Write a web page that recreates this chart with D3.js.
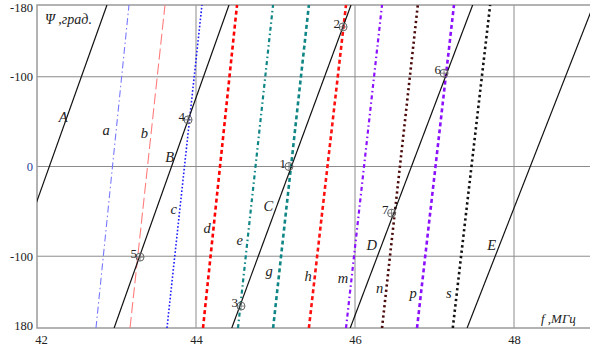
<!DOCTYPE html>
<html>
<head>
<meta charset="utf-8">
<script src="https://cdn.jsdelivr.net/npm/d3@7"></script>
<style>
  html, body { margin: 0; padding: 0; background: #fff; }
  svg { display: block; }
</style>
</head>
<body>
<svg id="chart" width="590" height="351"></svg>
<script>
// ---- data ----
const xTicks = [42, 44, 46, 48];
const xTickLabels = ["42", "44", "46", "48"];
const yTicks = [-180, -100, 0, 100, 180];
const yTickLabels = ["-180", "-100", "0", "-100", "180"];
const xGrid = [44, 46, 48];
const yGrid = [-100, 0, 100];

// solid lines: frequency (MHz) at phase +180 (bottom) and -180 (top)
const solidNames = ["A", "B", "C", "D", "E"];
const solidBottom = [41.43, 42.97, 44.45, 45.94, 47.41];
const solidTop = [42.88, 44.415, 45.95, 47.48, 49.0];

// steep lines
const steepNames = ["a", "b", "c", "d", "e", "g", "h", "m", "n", "p", "s"];
const steepBottom = [42.742, 43.17, 43.635, 44.088, 44.528, 44.97, 45.42, 45.887, 46.34, 46.78, 47.23];
const steepTop = [43.157, 43.61, 44.075, 44.516, 44.969, 45.42, 45.887, 46.34, 46.79, 47.245, 47.70];

// marked points
const pointNames = ["1", "2", "3", "4", "5", "6", "7"];
const pointF = [45.17, 45.85, 44.566, 43.90, 43.296, 47.12, 46.46];
const pointPsi = [0, -155.6, 155.6, -52, 101, -104, 52];

// label anchors (data coords)
const labelText = ["A", "a", "b", "B", "c", "d", "e", "C", "g", "h", "m", "D", "n", "p", "s", "E"];
const labelF = [42.33, 42.87, 43.35, 43.67, 43.72, 44.14, 44.55, 44.91, 44.92, 45.41, 45.85, 46.21, 46.31, 46.73, 47.18, 47.72];
const labelPsi = [-55, -41, -37, -11, 47, 68, 82, 44, 116, 122, 124, 87, 135, 141, 141, 87];

// ---- styles (kept separate) ----
const steepStyle = {
  a: { color: "#7878ff", width: 1.1, dash: "7,3,1.5,3" },
  b: { color: "#ff7c7c", width: 1.1, dash: "11,4" },
  c: { color: "#1a1aff", width: 1.6, dash: "1.6,2" },
  d: { color: "#ff0000", width: 2.6, dash: "4,3" },
  e: { color: "#0f8585", width: 2.2, dash: "4,3,1.5,3" },
  g: { color: "#0f8585", width: 2.6, dash: "4,3" },
  h: { color: "#ff1010", width: 2.6, dash: "4,3" },
  m: { color: "#8a10ff", width: 2.2, dash: "4,3,1.5,3" },
  n: { color: "#4a0a0a", width: 2.6, dash: "2.2,3" },
  p: { color: "#8a10ff", width: 2.6, dash: "4,3" },
  s: { color: "#111111", width: 2.6, dash: "2.4,3" }
};

(function () {
const svg = d3.select("#chart");
const pL = 37, pR = 593.5, pT = 5, pB = 328;
const x = d3.scaleLinear().domain([42, 49]).range([pL, pR]);
const y = d3.scaleLinear().domain([-180, 180]).range([pT, pB]);

svg.append("defs").append("clipPath").attr("id", "clip")
  .append("rect").attr("x", pL).attr("y", pT)
  .attr("width", pR - pL).attr("height", pB - pT);

// gridlines
const g = svg.append("g");
g.selectAll("line.vg").data(xGrid).enter().append("line")
  .attr("x1", d => x(d)).attr("x2", d => x(d))
  .attr("y1", pT).attr("y2", pB)
  .attr("stroke", "#8c8c8c").attr("stroke-width", 1);
g.selectAll("line.hg").data(yGrid).enter().append("line")
  .attr("x1", pL).attr("x2", pR)
  .attr("y1", d => y(d)).attr("y2", d => y(d))
  .attr("stroke", "#8c8c8c").attr("stroke-width", 1);

// frame
svg.append("rect").attr("x", pL).attr("y", pT)
  .attr("width", pR - pL).attr("height", pB - pT)
  .attr("fill", "none").attr("stroke", "#9a9a9a").attr("stroke-width", 1.5);

// lines
const plot = svg.append("g").attr("clip-path", "url(#clip)");
const lineGen = d3.line().x(d => x(d[0])).y(d => y(d[1]));

plot.selectAll("path.steep").data(steepNames).enter().append("path")
  .attr("d", (d, i) => lineGen([[steepBottom[i], 180], [steepTop[i], -180]]))
  .attr("fill", "none")
  .attr("stroke", d => steepStyle[d].color)
  .attr("stroke-width", d => steepStyle[d].width)
  .attr("stroke-dasharray", d => steepStyle[d].dash);

plot.selectAll("path.solid").data(solidNames).enter().append("path")
  .attr("d", (d, i) => lineGen([[solidBottom[i], 180], [solidTop[i], -180]]))
  .attr("fill", "none")
  .attr("stroke", "#111")
  .attr("stroke-width", 1.2);

// points
const pts = svg.append("g");
pointNames.forEach((n, i) => {
  const cx = x(pointF[i]), cy = y(pointPsi[i]);
  pts.append("circle").attr("cx", cx).attr("cy", cy).attr("r", 4)
    .attr("fill", "none").attr("stroke", "#666").attr("stroke-width", 1);
  pts.append("line").attr("x1", cx - 4).attr("x2", cx + 4).attr("y1", cy).attr("y2", cy)
    .attr("stroke", "#666").attr("stroke-width", 0.8);
  pts.append("line").attr("x1", cx).attr("x2", cx).attr("y1", cy - 4).attr("y2", cy + 4)
    .attr("stroke", "#666").attr("stroke-width", 0.8);
  pts.append("text").attr("x", cx - 3).attr("y", cy + 1)
    .attr("text-anchor", "end")
    .attr("font-family", "Liberation Serif, serif").attr("font-size", 13)
    .attr("fill", "#222").text(n);
});

// line labels
svg.append("g").selectAll("text").data(labelText).enter().append("text")
  .attr("x", (d, i) => x(labelF[i]))
  .attr("y", (d, i) => y(labelPsi[i]))
  .attr("text-anchor", "middle")
  .attr("dy", "0.35em")
  .attr("font-family", "Liberation Serif, serif")
  .attr("font-style", "italic")
  .attr("font-size", 14.5)
  .attr("fill", "#222")
  .text(d => d);

// axes
const yAxis = d3.axisLeft(y).tickValues(yTicks).tickSize(0).tickPadding(4)
  .tickFormat((d, i) => yTickLabels[i]);
const ya = svg.append("g").attr("transform", `translate(${pL},0)`).call(yAxis);
ya.select(".domain").remove();
ya.selectAll("text")
  .attr("font-family", "Liberation Serif, serif").attr("font-size", 12.5)
  .attr("fill", (d) => d === 0 ? "#2a3f9a" : "#222")
  .attr("dy", (d) => d === -180 ? "0.5em" : (d === 180 ? "0.1em" : "0.32em"));

const xAxis = d3.axisBottom(x).tickValues(xTicks).tickSize(0).tickPadding(7)
  .tickFormat((d, i) => xTickLabels[i]);
const xa = svg.append("g").attr("transform", `translate(0,${pB})`).call(xAxis);
xa.select(".domain").remove();
xa.selectAll("text")
  .attr("font-family", "Liberation Serif, serif").attr("font-size", 12.5)
  .attr("fill", "#222");
xa.selectAll(".tick").filter(d => d === 42).select("text").attr("x", 4);

// axis titles
svg.append("text").attr("x", 45).attr("y", 24)
  .attr("font-family", "Liberation Serif, serif").attr("font-size", 14)
  .attr("font-style", "italic").attr("fill", "#222")
  .text("Ψ ,град.");
svg.append("text").attr("x", 541).attr("y", 323)
  .attr("font-family", "Liberation Serif, serif").attr("font-size", 13)
  .attr("font-style", "italic").attr("fill", "#222")
  .text("f ,МГц");
})();
</script>
</body>
</html>
